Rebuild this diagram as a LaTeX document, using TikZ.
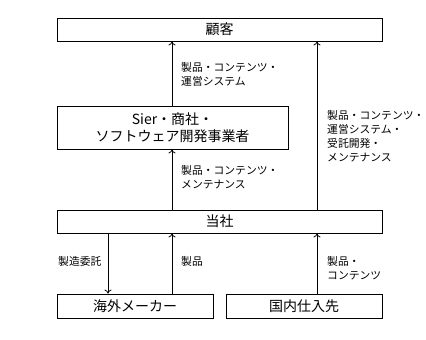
\documentclass[tikz,border=0pt]{standalone}
\usepackage{fontspec}
\setmainfont{Noto Sans CJK JP}
\usetikzlibrary{arrows.meta}
\begin{document}
\begin{tikzpicture}[x=1pt,y=-1pt,
  box/.style={draw,line width=0.8pt,inner sep=0pt,font=\fontsize{14}{16.5}\selectfont,align=center},
  lbl/.style={anchor=north west,inner sep=0pt,align=left,font=\fontsize{10.8}{14}\selectfont},
  arr/.style={-{To[length=4pt,width=7pt]},line width=0.8pt}]
\useasboundingbox (0,0) rectangle (426,340);
\node[box,minimum width=325pt,minimum height=23pt] (kokyaku) at (219.5,29.5) {顧客};
\node[box,minimum width=231pt,minimum height=43pt] (sier) at (172.5,127.5) {Sier・商社・\\ソフトウェア開発事業者};
\node[box,minimum width=325pt,minimum height=23pt] (tousha) at (219.5,221.5) {当社};
\node[box,minimum width=156pt,minimum height=24pt] (kaigai) at (135,306) {海外メーカー};
\node[box,minimum width=156pt,minimum height=24pt] (kokunai) at (304,306) {国内仕入先};
\coordinate (xa) at (172,0);
\coordinate (xb) at (317,0);
\coordinate (xc) at (108,0);
\draw[arr] (sier.north -| xa) -- (kokyaku.south -| xa);
\draw[arr] (tousha.north -| xb) -- (kokyaku.south -| xb);
\draw[arr] (tousha.north -| xa) -- (sier.south -| xa);
\draw[arr] (tousha.south -| xc) -- (kaigai.north -| xc);
\draw[arr] (kaigai.north -| xa) -- (tousha.south -| xa);
\draw[arr] (kokunai.north -| xb) -- (tousha.south -| xb);
\node[lbl] (l1) at (181,62) {製品・コンテンツ・\\運営システム};
\node[lbl] (l2) at (327,110) {製品・コンテンツ・\\運営システム・\\受託開発・\\メンテナンス};
\node[lbl] (l3) at (181,165) {製品・コンテンツ・\\メンテナンス};
\node[lbl] (l4) at (58,256) {製造委託};
\node[lbl] (l5) at (181,256) {製品};
\node[lbl] (l6) at (327,256) {製品・\\コンテンツ};
\end{tikzpicture}
\end{document}
